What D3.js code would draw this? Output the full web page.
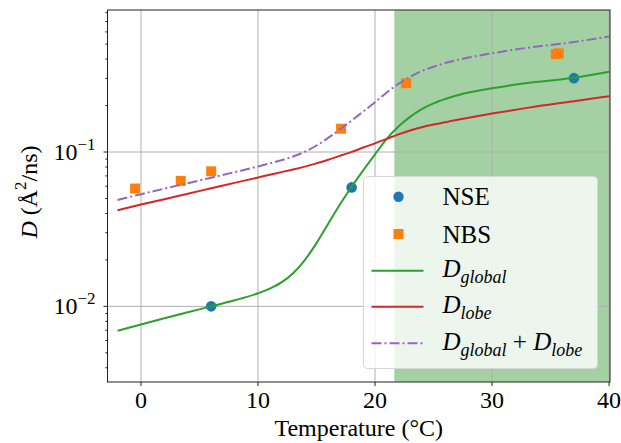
<!DOCTYPE html>
<html>
<head>
<meta charset="utf-8">
<script src="https://cdn.jsdelivr.net/npm/d3@7"></script>
<style>
  body { margin: 0; background: #fff; }
  svg { font-family: "Liberation Serif", "Times New Roman", serif; }
</style>
</head>
<body>
<svg width="621" height="443"></svg>
<script>
// measured points
var nseT = [6, 18, 37];
var nseD = [0.0100, 0.059, 0.301];
var nbsT = [-0.5, 3.4, 6.0, 17.1, 22.65, 35.45, 35.7];
var nbsD = [0.058, 0.065, 0.075, 0.1416, 0.279, 0.431, 0.436];

// fitted curves
var curveT = [-2, 0, 2, 4, 6, 8, 10, 11, 12, 13, 14, 15, 16, 17, 18, 19, 20, 21, 22, 23, 24, 25, 26.6, 28, 30, 33, 36.85, 40];
var dGlobal = [0.00695, 0.00764, 0.00838, 0.00917, 0.0100, 0.01095, 0.01216, 0.01303, 0.01429, 0.0164, 0.01995, 0.0257, 0.0343, 0.0457, 0.0596, 0.0762, 0.0966, 0.1216, 0.1462, 0.169, 0.1897, 0.2065, 0.228, 0.2427, 0.2588, 0.28, 0.3013, 0.331];
var dLobe = [0.042, 0.0457, 0.0495, 0.0537, 0.0582, 0.0631, 0.0684, 0.0713, 0.0741, 0.0771, 0.0804, 0.0845, 0.0891, 0.0944, 0.1002, 0.1069, 0.1138, 0.1216, 0.130, 0.138, 0.1449, 0.1507, 0.1592, 0.1667, 0.1774, 0.1932, 0.2128, 0.2301];
var dSum = [0.0489, 0.0533, 0.0579, 0.0628, 0.0682, 0.0741, 0.0806, 0.0843, 0.0884, 0.0935, 0.1004, 0.1102, 0.1234, 0.1401, 0.1598, 0.1831, 0.2104, 0.2432, 0.2762, 0.307, 0.3346, 0.3572, 0.3872, 0.4094, 0.4362, 0.4732, 0.5141, 0.5611];

// shaded temperature band
var shadeT = [21.65, 40.08];

var xTicks = [0, 10, 20, 30, 40];
var yMajor = [0.01, 0.1];
var yMajorExp = ["\u22122", "\u22121"];

var svg = d3.select("svg"),
  margin = { top: 10, right: 11, bottom: 61, left: 107.5 },
  width = +svg.attr("width") - margin.left - margin.right,
  height = +svg.attr("height") - margin.top - margin.bottom;

var x = d3.scaleLinear().domain([-2.86, 40.08]).range([0, width]),
  y = d3.scaleLog().domain([0.003236, 0.832]).range([height, 0]);

var g = svg.append("g")
  .attr("transform", "translate(" + margin.left + "," + margin.top + ")");

g.append("clipPath").attr("id", "clip")
  .append("rect").attr("width", width).attr("height", height);

// shaded band
g.append("rect")
  .attr("x", x(shadeT[0]))
  .attr("y", 0)
  .attr("width", x(shadeT[1]) - x(shadeT[0]))
  .attr("height", height)
  .attr("fill", "rgb(163,209,163)");

// grid
g.selectAll(".gx").data(xTicks).enter().append("line")
  .attr("x1", function (d) { return x(d); }).attr("x2", function (d) { return x(d); })
  .attr("y1", 0).attr("y2", height)
  .attr("stroke", "#b0b0b0").attr("stroke-width", 1);
g.selectAll(".gy").data(yMajor).enter().append("line")
  .attr("x1", 0).attr("x2", width)
  .attr("y1", function (d) { return y(d); }).attr("y2", function (d) { return y(d); })
  .attr("stroke", "#b0b0b0").attr("stroke-width", 1);

var plot = g.append("g").attr("clip-path", "url(#clip)");

// points
plot.selectAll(".nse").data(nseT).enter().append("circle")
  .attr("cx", function (d) { return x(d); })
  .attr("cy", function (d, i) { return y(nseD[i]); })
  .attr("r", 5.3)
  .attr("fill", "#1f77b4");

var sq = 10;
plot.selectAll(".nbs").data(nbsT).enter().append("rect")
  .attr("x", function (d) { return x(d) - sq / 2; })
  .attr("y", function (d, i) { return y(nbsD[i]) - sq / 2; })
  .attr("width", sq).attr("height", sq)
  .attr("fill", "#ff7f0e");

// curves
function curveLine(vals) {
  return d3.line()
    .x(function (d) { return x(d); })
    .y(function (d, i) { return y(vals[i]); })
    .curve(d3.curveMonotoneX)(curveT);
}

plot.append("path").attr("d", curveLine(dGlobal))
  .attr("fill", "none").attr("stroke", "#2ca02c").attr("stroke-width", 2);
plot.append("path").attr("d", curveLine(dLobe))
  .attr("fill", "none").attr("stroke", "#d62728").attr("stroke-width", 2);
plot.append("path").attr("d", curveLine(dSum))
  .attr("fill", "none").attr("stroke", "#9467bd").attr("stroke-width", 2)
  .attr("stroke-dasharray", "10,3,2,3");

// frame
g.append("rect").attr("width", width).attr("height", height)
  .attr("fill", "none").attr("stroke", "#222").attr("stroke-width", 1);

// x ticks
g.selectAll(".xt").data(xTicks).enter().append("line")
  .attr("x1", function (d) { return x(d); }).attr("x2", function (d) { return x(d); })
  .attr("y1", height).attr("y2", height + 4)
  .attr("stroke", "#222");
g.selectAll(".xl").data(xTicks).enter().append("text")
  .attr("x", function (d) { return x(d); })
  .attr("y", height + 26)
  .attr("text-anchor", "middle")
  .attr("font-size", 24)
  .text(function (d) { return d; });

// y ticks
var yMinor = y.ticks().filter(function (d) { return yMajor.indexOf(d) < 0; });
g.selectAll(".ymn").data(yMinor).enter().append("line")
  .attr("x1", -2.2).attr("x2", 0)
  .attr("y1", function (d) { return y(d); }).attr("y2", function (d) { return y(d); })
  .attr("stroke", "#222");
g.selectAll(".ymj").data(yMajor).enter().append("line")
  .attr("x1", -4).attr("x2", 0)
  .attr("y1", function (d) { return y(d); }).attr("y2", function (d) { return y(d); })
  .attr("stroke", "#222");
var yl = g.selectAll(".yl").data(yMajor).enter().append("text")
  .attr("x", -12)
  .attr("y", function (d) { return y(d) + 8; })
  .attr("text-anchor", "end")
  .attr("font-size", 24);
yl.append("tspan").text("10");
yl.append("tspan").attr("font-size", 17).attr("dy", -10)
  .text(function (d, i) { return yMajorExp[i]; });

// axis labels
svg.append("text")
  .attr("x", margin.left + width / 2)
  .attr("y", 436)
  .attr("text-anchor", "middle")
  .attr("font-size", 24)
  .text("Temperature (\u00b0C)");

var ylab = svg.append("text")
  .attr("transform", "translate(37," + 192 + ") rotate(-90)")
  .attr("text-anchor", "middle")
  .attr("font-size", 24);
ylab.append("tspan").attr("font-style", "italic").text("D");
ylab.append("tspan").text(" (\u00c5");
ylab.append("tspan").attr("font-size", 17).attr("dy", -11).text("2");
ylab.append("tspan").attr("dy", 11).text("/ns)");

// legend
var leg = svg.append("g").attr("transform", "translate(363.5,176.5)");
leg.append("rect")
  .attr("width", 234).attr("height", 192).attr("rx", 4)
  .attr("fill", "rgba(255,255,255,0.8)")
  .attr("stroke", "#d6d6d6").attr("stroke-width", 1);

var rowY = [20.2, 57.5, 94.2, 130.2, 166.8];
var textX = 79;

leg.append("circle").attr("cx", 35).attr("cy", rowY[0]).attr("r", 5.2).attr("fill", "#1f77b4");
leg.append("text").attr("x", textX).attr("y", rowY[0] + 8.5).attr("font-size", 25).text("NSE");

leg.append("rect").attr("x", 35 - 5).attr("y", rowY[1] - 5).attr("width", 10).attr("height", 10).attr("fill", "#ff7f0e");
leg.append("text").attr("x", textX).attr("y", rowY[1] + 8.5).attr("font-size", 25).text("NBS");

leg.append("line").attr("x1", 8).attr("x2", 60).attr("y1", rowY[2]).attr("y2", rowY[2])
  .attr("stroke", "#2ca02c").attr("stroke-width", 2);
leg.append("line").attr("x1", 8).attr("x2", 60).attr("y1", rowY[3]).attr("y2", rowY[3])
  .attr("stroke", "#d62728").attr("stroke-width", 2);
leg.append("line").attr("x1", 8).attr("x2", 60).attr("y1", rowY[4]).attr("y2", rowY[4])
  .attr("stroke", "#9467bd").attr("stroke-width", 2)
  .attr("stroke-dasharray", "10,3,2,3");

function mathLabel(yy, parts) {
  var t = leg.append("text").attr("x", textX).attr("y", yy).attr("font-size", 25);
  parts.forEach(function (p) {
    var s = t.append("tspan").text(p.t);
    if (p.it) s.attr("font-style", "italic");
    if (p.sub) s.attr("font-size", 18).attr("dy", 6);
    if (p.up) s.attr("dy", -6);
  });
}
mathLabel(rowY[2] + 6.6, [{ t: "D", it: 1 }, { t: "global", it: 1, sub: 1 }]);
mathLabel(rowY[3] + 6.6, [{ t: "D", it: 1 }, { t: "lobe", it: 1, sub: 1 }]);
mathLabel(rowY[4] + 6.6, [{ t: "D", it: 1 }, { t: "global", it: 1, sub: 1 },
  { t: " + ", up: 1 }, { t: "D", it: 1 }, { t: "lobe", it: 1, sub: 1 }]);
</script>
</body>
</html>
